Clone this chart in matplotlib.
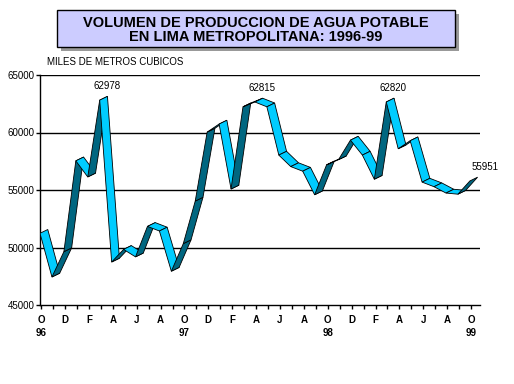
import matplotlib.pyplot as plt
from matplotlib.patches import Polygon, Rectangle

plt.rcParams['font.family'] = ['Liberation Sans', 'DejaVu Sans']

# monthly production, Oct 1996 .. Oct 1999 (thousand m3)
values = [51400, 47600, 49800, 57700, 56300, 62978, 48900, 50000, 49350, 52000,
          51600, 48100, 50500, 54200, 60200, 60900, 55250, 62400, 62815, 62400,
          58200, 57200, 56800, 54750, 57350, 57800, 59500, 58200, 56100, 62820,
          58750, 59450, 55850, 55450, 54900, 54800, 55951]
month_labels = ['O', 'D', 'F', 'A', 'J', 'A', 'O', 'D', 'F', 'A', 'J', 'A',
                'O', 'D', 'F', 'A', 'J', 'A', 'O']
year_labels = ['96', '97', '98', '99']
peak_idx = [5, 18, 29]
last_idx = 36

light = '#00CCFF'
dark = '#006680'

fig = plt.figure(figsize=(5.14, 3.84), dpi=100)
ax = fig.add_axes([40/514, 1-305/384, 440/514, 230/384])

x = list(range(len(values)))
dx, dy = 0.65, 330

# ribbon: one slab per segment, light when descending, dark when rising
for i in range(len(values) - 1):
    x0, x1 = x[i] - 0.1, x[i+1] - 0.1
    y0, y1 = values[i] - dy/2, values[i+1] - dy/2
    col = light if y1 < y0 else dark
    poly = Polygon([(x0, y0), (x1, y1), (x1+dx, y1+dy), (x0+dx, y0+dy)],
                   closed=True, facecolor=col, edgecolor='black', lw=0.6, zorder=3)
    ax.add_patch(poly)

ax.set_xlim(-0.1, 36.75)
ax.set_ylim(45000, 65000)
ax.set_yticks([45000, 50000, 55000, 60000, 65000])
ax.set_yticklabels(['45000', '50000', '55000', '60000', '65000'], fontsize=7)
for g in [50000, 55000, 60000, 65000]:
    ax.axhline(g, color='black', lw=1, zorder=1)

ax.set_xticks(range(0, 37))
ax.set_xticklabels([])
ax.tick_params(axis='x', length=3, width=1, direction='out')
ax.tick_params(axis='y', length=3, width=1, direction='out', pad=1)
for s in ['top', 'right']:
    ax.spines[s].set_visible(False)
ax.spines['left'].set_linewidth(1)
ax.spines['bottom'].set_linewidth(1)

for k, lab in enumerate(month_labels):
    ax.text(2*k, -0.045, lab, transform=ax.get_xaxis_transform(), ha='center',
            va='top', fontsize=7, fontweight='bold')
for k, lab in enumerate(year_labels):
    ax.text(12*k, -0.1, lab, transform=ax.get_xaxis_transform(), ha='center',
            va='top', fontsize=7, fontweight='bold')

for i in peak_idx:
    ax.annotate(str(values[i]), (x[i] + 0.5, values[i]), xytext=(0, 5),
                textcoords='offset points', ha='center', va='bottom', fontsize=7)
ax.annotate(str(values[last_idx]), (x[last_idx] + 1.2, values[last_idx]), xytext=(0, 5),
            textcoords='offset points', ha='center', va='bottom', fontsize=7,
            annotation_clip=False)

fig.text(47/514, 1-62/384, 'MILES DE METROS CUBICOS', fontsize=7, va='center')

# title box with shadow
fig.patches.append(Rectangle((61/514, 1-51/384), 398/514, 37/384, transform=fig.transFigure,
                             facecolor='#999999', edgecolor='none', zorder=0))
fig.patches.append(Rectangle((57/514, 1-47/384), 398/514, 37/384, transform=fig.transFigure,
                             facecolor='#CCCCFF', edgecolor='black', lw=1, zorder=1))
fig.text(256/514, 1-30/384, 'VOLUMEN DE PRODUCCION DE AGUA POTABLE\nEN LIMA METROPOLITANA: 1996-99',
         ha='center', va='center', fontsize=10.5, fontweight='bold', linespacing=1.05)

fig.savefig('out.png', dpi=100)
